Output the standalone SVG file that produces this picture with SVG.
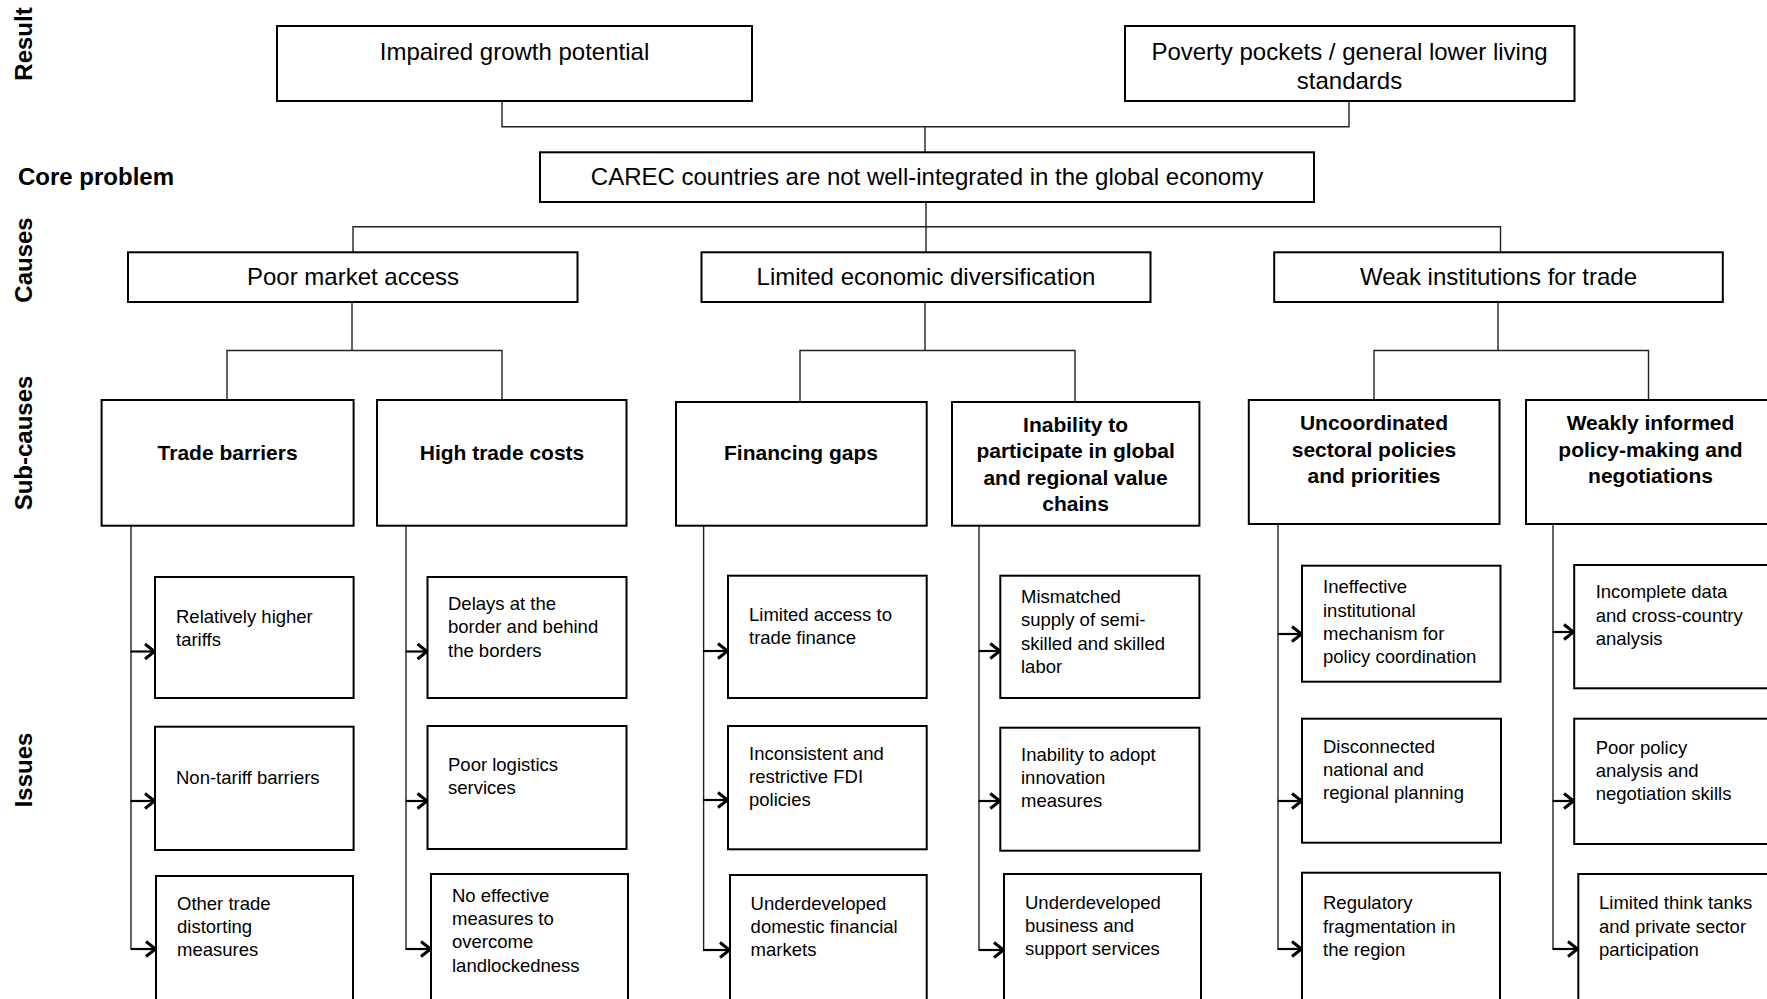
<svg xmlns="http://www.w3.org/2000/svg" width="1767" height="999" viewBox="0 0 1767 999">
<defs>
<style>
.box{fill:#fff;stroke:#000;stroke-width:2}
.t24{font-family:"Liberation Sans",Arial,sans-serif;font-size:24px;fill:#000;text-anchor:middle}
.lbl{font-family:"Liberation Sans",Arial,sans-serif;font-size:24px;font-weight:bold;fill:#000}
.vl{font-family:"Liberation Sans",Arial,sans-serif;font-size:24px;font-weight:bold;fill:#000;text-anchor:middle}
.sub{font-family:"Liberation Sans",Arial,sans-serif;font-size:21px;font-weight:bold;fill:#000;text-anchor:middle}
.iss{font-family:"Liberation Sans",Arial,sans-serif;font-size:18.5px;fill:#000}
.ln{fill:none;stroke:#222;stroke-width:1.4}
.ar{fill:none;stroke:#000;stroke-width:2.2;marker-end:url(#arr)}
</style>
<marker id="arr" markerUnits="userSpaceOnUse" markerWidth="16" markerHeight="20" viewBox="0 0 16 20" refX="13" refY="10" orient="auto">
<path d="M3,2.5 L12.5,10 L3,17.5" fill="none" stroke="#000" stroke-width="3" stroke-linejoin="miter"/>
</marker>
</defs>
<rect width="1767" height="999" fill="#fff"/>

<g id="labels">
<text class="vl" transform="translate(32,44) rotate(-90)">Result</text>
<text class="lbl" x="18" y="185">Core problem</text>
<text class="vl" transform="translate(32,260) rotate(-90)">Causes</text>
<text class="vl" transform="translate(32,443) rotate(-90)">Sub-causes</text>
<text class="vl" transform="translate(32,770) rotate(-90)">Issues</text>
</g>

<g id="connectors">
<path class="ln" d="M502,101 V126.7 H1349 V101"/>
<path class="ln" d="M925,126.7 V152.3"/>
<path class="ln" d="M926,202 V252.3"/>
<path class="ln" d="M353,252.3 V226.7 H1500.5 V252.3"/>
<path class="ln" d="M352,302 V350.5"/>
<path class="ln" d="M227,400 V350.5 H502 V400"/>
<path class="ln" d="M925,302 V350.5"/>
<path class="ln" d="M800,402 V350.5 H1075 V402"/>
<path class="ln" d="M1498,302 V350.5"/>
<path class="ln" d="M1374,400 V350.5 H1648.5 V400"/>
<path class="ln" d="M131,525.7 V949"/>
<path class="ln" d="M406,525.7 V949"/>
<path class="ln" d="M703.6,525.7 V950"/>
<path class="ln" d="M979,525.7 V950"/>
<path class="ln" d="M1278,524 V949"/>
<path class="ln" d="M1553,524 V949"/>
<path class="ar" d="M130.5,651.5 H155"/>
<path class="ar" d="M130.5,801 H155"/>
<path class="ar" d="M130.5,949 H156"/>
<path class="ar" d="M405.5,651.5 H427.5"/>
<path class="ar" d="M405.5,801 H427.5"/>
<path class="ar" d="M405.5,949 H431"/>
<path class="ar" d="M703,651 H728"/>
<path class="ar" d="M703,800 H728"/>
<path class="ar" d="M703,950 H730"/>
<path class="ar" d="M978.5,651 H1000.3"/>
<path class="ar" d="M978.5,801 H1000.3"/>
<path class="ar" d="M978.5,950 H1004"/>
<path class="ar" d="M1277.5,634 H1302"/>
<path class="ar" d="M1277.5,801 H1302"/>
<path class="ar" d="M1277.5,949 H1302"/>
<path class="ar" d="M1552.5,632 H1574"/>
<path class="ar" d="M1552.5,801 H1574"/>
<path class="ar" d="M1552.5,949 H1578"/>
</g>

<g id="n-impaired"><rect class="box" x="277" y="26" width="475" height="75"/><text class="t24" x="514.5" y="60">Impaired growth potential</text></g>
<g id="n-poverty"><rect class="box" x="1125" y="26" width="449.5" height="75"/><text class="t24" x="1349.5" y="60">Poverty pockets / general lower living<tspan x="1349.5" dy="29">standards</tspan></text></g>
<g id="n-core"><rect class="box" x="540" y="152.3" width="774" height="49.7"/><text class="t24" x="927" y="185">CAREC countries are not well-integrated in the global economy</text></g>

<g id="n-poor-market"><rect class="box" x="128" y="252.3" width="449.5" height="49.7"/><text class="t24" x="353" y="285">Poor market access</text></g>
<g id="n-limited-div"><rect class="box" x="701.5" y="252.3" width="449" height="49.7"/><text class="t24" x="926" y="285">Limited economic diversification</text></g>
<g id="n-weak-inst"><rect class="box" x="1274.2" y="252.3" width="448.6" height="49.7"/><text class="t24" x="1498.5" y="285">Weak institutions for trade</text></g>

<g id="n-trade-barriers"><rect class="box" x="101.6" y="400" width="252" height="125.7"/><text class="sub" x="227.6" y="460">Trade barriers</text></g>
<g id="n-high-costs"><rect class="box" x="377" y="400" width="249.5" height="125.7"/><text class="sub" x="502" y="460">High trade costs</text></g>
<g id="n-financing"><rect class="box" x="676" y="402" width="250.7" height="123.7"/><text class="sub" x="801" y="460">Financing gaps</text></g>
<g id="n-inability"><rect class="box" x="952" y="402" width="247.4" height="123.7"/><text class="sub" x="1075.6" y="431.7">Inability to<tspan x="1075.6" dy="26.4">participate in global</tspan><tspan x="1075.6" dy="26.4">and regional value</tspan><tspan x="1075.6" dy="26.4">chains</tspan></text></g>
<g id="n-uncoord"><rect class="box" x="1248.8" y="400" width="250.7" height="124"/><text class="sub" x="1374" y="430">Uncoordinated<tspan x="1374" dy="26.6">sectoral policies</tspan><tspan x="1374" dy="26.6">and priorities</tspan></text></g>
<g id="n-weakly"><rect class="box" x="1526" y="400" width="248" height="124"/><text class="sub" x="1650.5" y="430">Weakly informed<tspan x="1650.5" dy="26.6">policy-making and</tspan><tspan x="1650.5" dy="26.6">negotiations</tspan></text></g>

<g id="i-tariffs"><rect class="box" x="155" y="577" width="198.6" height="121"/><text class="iss" x="176" y="622.7">Relatively higher<tspan x="176" dy="23.3">tariffs</tspan></text></g>
<g id="i-ntb"><rect class="box" x="155" y="726.7" width="198.6" height="123.3"/><text class="iss" x="176" y="784">Non-tariff barriers</text></g>
<g id="i-other"><rect class="box" x="156" y="876" width="197" height="130"/><text class="iss" x="177" y="910">Other trade<tspan x="177" dy="23">distorting</tspan><tspan x="177" dy="23">measures</tspan></text></g>

<g id="i-delays"><rect class="box" x="427.5" y="577" width="199" height="121"/><text class="iss" x="448" y="610">Delays at the<tspan x="448" dy="23.3">border and behind</tspan><tspan x="448" dy="23.3">the borders</tspan></text></g>
<g id="i-logistics"><rect class="box" x="427.5" y="726" width="199" height="123"/><text class="iss" x="448" y="770.7">Poor logistics<tspan x="448" dy="23.3">services</tspan></text></g>
<g id="i-landlocked"><rect class="box" x="431" y="874" width="197" height="132"/><text class="iss" x="452" y="901.7">No effective<tspan x="452" dy="23.3">measures to</tspan><tspan x="452" dy="23.3">overcome</tspan><tspan x="452" dy="23.3">landlockedness</tspan></text></g>

<g id="i-tradefin"><rect class="box" x="728" y="575.7" width="198.7" height="122.3"/><text class="iss" x="749" y="620.7">Limited access to<tspan x="749" dy="23.3">trade finance</tspan></text></g>
<g id="i-fdi"><rect class="box" x="728" y="726" width="198.7" height="123.3"/><text class="iss" x="749" y="760">Inconsistent and<tspan x="749" dy="23">restrictive FDI</tspan><tspan x="749" dy="23">policies</tspan></text></g>
<g id="i-finmarkets"><rect class="box" x="730" y="875" width="196.7" height="131"/><text class="iss" x="750.6" y="910">Underdeveloped<tspan x="750.6" dy="23">domestic financial</tspan><tspan x="750.6" dy="23">markets</tspan></text></g>

<g id="i-mismatch"><rect class="box" x="1000.3" y="575.7" width="199.1" height="122.3"/><text class="iss" x="1021" y="603.3">Mismatched<tspan x="1021" dy="23.1">supply of semi-</tspan><tspan x="1021" dy="23.1">skilled and skilled</tspan><tspan x="1021" dy="23.1">labor</tspan></text></g>
<g id="i-innovation"><rect class="box" x="1000.3" y="727.7" width="199.1" height="123"/><text class="iss" x="1021" y="761">Inability to adopt<tspan x="1021" dy="23.2">innovation</tspan><tspan x="1021" dy="23.2">measures</tspan></text></g>
<g id="i-business"><rect class="box" x="1004" y="874" width="197" height="132"/><text class="iss" x="1025" y="909">Underdeveloped<tspan x="1025" dy="23.2">business and</tspan><tspan x="1025" dy="23.2">support services</tspan></text></g>

<g id="i-mechanism"><rect class="box" x="1302" y="565.7" width="198.5" height="116"/><text class="iss" x="1323" y="593.3">Ineffective<tspan x="1323" dy="23.3">institutional</tspan><tspan x="1323" dy="23.3">mechanism for</tspan><tspan x="1323" dy="23.3">policy coordination</tspan></text></g>
<g id="i-planning"><rect class="box" x="1302" y="718.7" width="199" height="124"/><text class="iss" x="1323" y="752.7">Disconnected<tspan x="1323" dy="23.2">national and</tspan><tspan x="1323" dy="23.2">regional planning</tspan></text></g>
<g id="i-regulatory"><rect class="box" x="1302" y="872.7" width="198" height="133"/><text class="iss" x="1323" y="909.3">Regulatory<tspan x="1323" dy="23.2">fragmentation in</tspan><tspan x="1323" dy="23.2">the region</tspan></text></g>

<g id="i-data"><rect class="box" x="1574.2" y="565" width="200" height="123.3"/><text class="iss" x="1595.7" y="598.3">Incomplete data<tspan x="1595.7" dy="23.3">and cross-country</tspan><tspan x="1595.7" dy="23.3">analysis</tspan></text></g>
<g id="i-skills"><rect class="box" x="1574.2" y="718.7" width="200" height="125.3"/><text class="iss" x="1595.7" y="754">Poor policy<tspan x="1595.7" dy="23">analysis and</tspan><tspan x="1595.7" dy="23">negotiation skills</tspan></text></g>
<g id="i-thinktanks"><rect class="box" x="1578.3" y="874" width="200" height="132"/><text class="iss" x="1599" y="909.3">Limited think tanks<tspan x="1599" dy="23.2">and private sector</tspan><tspan x="1599" dy="23.2">participation</tspan></text></g>
</svg>
